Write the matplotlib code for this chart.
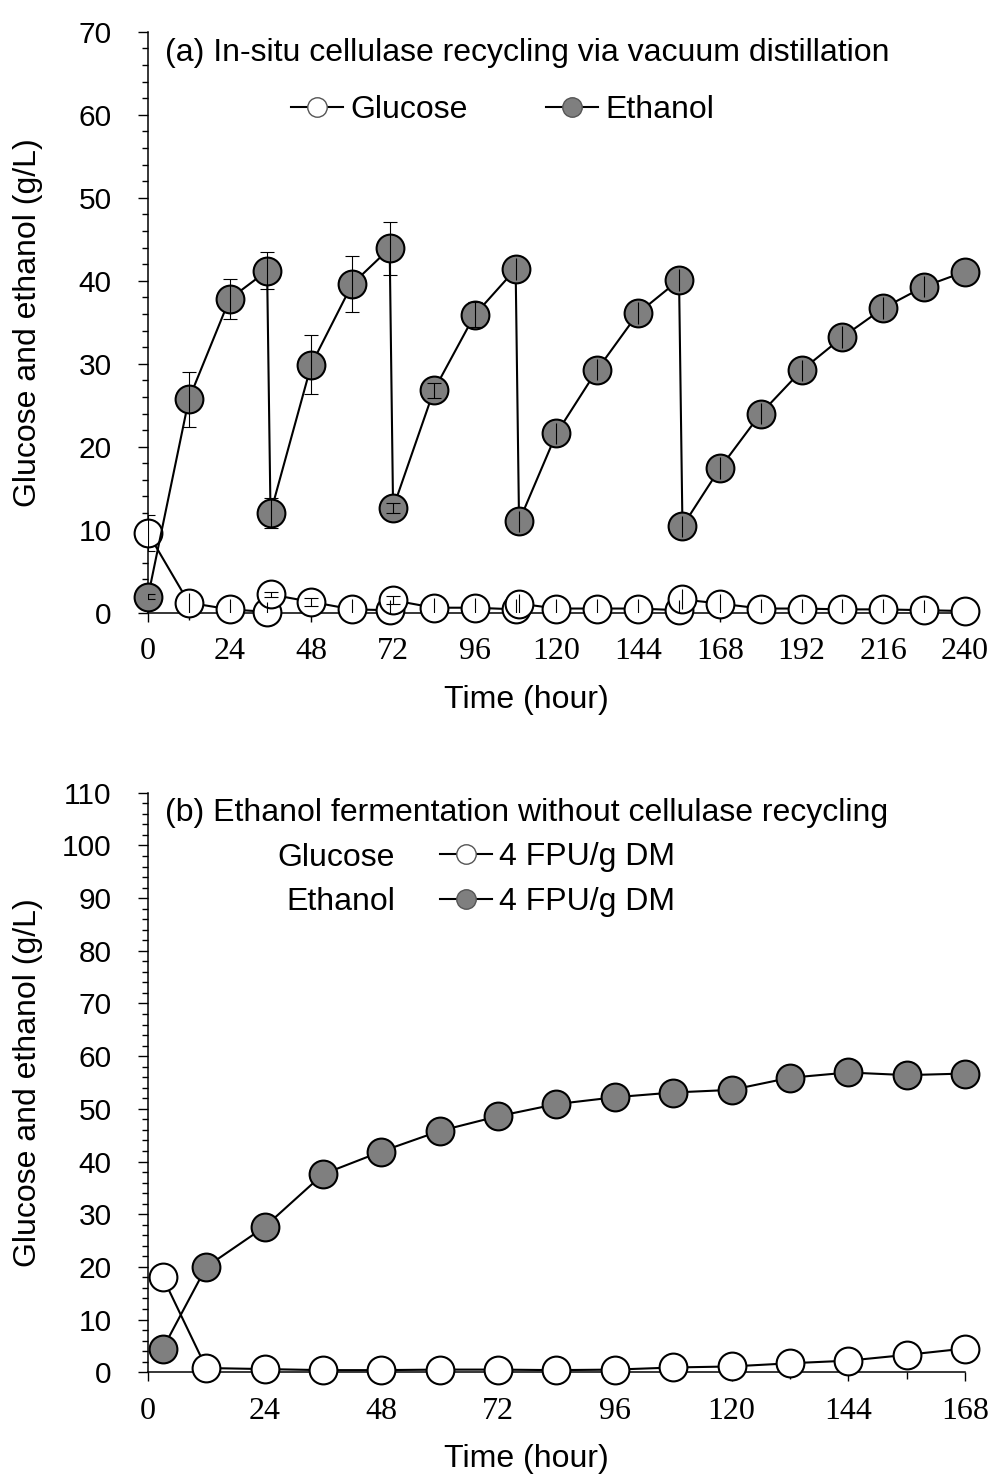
import numpy as np
import matplotlib
matplotlib.use("Agg")
import matplotlib.pyplot as plt
from matplotlib.ticker import MultipleLocator
from matplotlib.lines import Line2D

plt.rcParams['font.family'] = ['Liberation Sans', 'DejaVu Sans']

# (a) in-situ cellulase recycling via vacuum distillation
time_a = [0, 12, 24, 35, 36, 48, 60, 71, 72, 84, 96, 108, 109, 120, 132, 144,
          156, 157, 168, 180, 192, 204, 216, 228, 240]
ethanol_a = [1.9, 25.7, 37.8, 41.2, 12.0, 29.9, 39.6, 43.9, 12.6, 26.8, 35.9,
             41.4, 11.0, 21.6, 29.3, 36.1, 40.1, 10.4, 17.4, 24.0, 29.2, 33.2,
             36.7, 39.3, 41.1]
ethanol_a_err = [0.3, 3.3, 2.4, 2.2, 1.8, 3.6, 3.4, 3.2, 0.6, 0.9, 1.5, 1.3,
                 1.3, 1.3, 1.3, 1.3, 1.3, 1.3, 1.3, 1.3, 1.3, 1.3, 1.3, 1.3, 0.0]
ethanol_a_capped = [1, 1, 1, 1, 1, 1, 1, 1, 1, 1, 1, 0, 0, 0, 0, 0, 0, 0, 0,
                    0, 0, 0, 0, 0, 0]
glucose_a = [9.6, 1.2, 0.4, 0.1, 2.2, 1.3, 0.4, 0.3, 1.5, 0.6, 0.6, 0.4,
             1.1, 0.5, 0.5, 0.5, 0.3, 1.6, 1.1, 0.5, 0.5, 0.4, 0.4, 0.3, 0.2]
glucose_a_err = [2.2, 1.2, 1.2, 1.2, 0.3, 0.5, 1.2, 1.2, 0.5, 1.2, 1.2, 1.2,
                 1.2, 1.2, 1.2, 1.2, 1.2, 1.2, 1.2, 1.2, 1.2, 1.2, 1.2, 1.2, 0.0]
glucose_a_capped = [1, 0, 0, 0, 1, 1, 0, 0, 1, 0, 0, 0, 0, 0, 0, 0, 0, 0, 0,
                    0, 0, 0, 0, 0, 0]

# (b) ethanol fermentation without cellulase recycling
time_b = [3, 12, 24, 36, 48, 60, 72, 84, 96, 108, 120, 132, 144, 156, 168]
ethanol_b = [4.4, 20.0, 27.6, 37.6, 41.9, 45.8, 48.6, 50.9, 52.2, 53.1, 53.6,
             55.9, 56.9, 56.4, 56.7]
glucose_b = [18.1, 0.8, 0.6, 0.4, 0.4, 0.5, 0.5, 0.4, 0.5, 0.9, 1.1, 1.7,
             2.2, 3.3, 4.5]

GREY = '#7f7f7f'
FS = 23

fig = plt.figure(figsize=(9.91, 14.76), dpi=100)
ax1 = fig.add_axes([0.1493, 0.5849, 0.8245, 0.3936])
ax2 = fig.add_axes([0.1493, 0.0703, 0.8245, 0.3926])


def style_axis(ax, xmax, ymax):
    for s in ['top', 'right']:
        ax.spines[s].set_visible(False)
    for s in ['left', 'bottom']:
        ax.spines[s].set_linewidth(1.1)
    ax.set_xlim(0, xmax)
    ax.set_ylim(0, ymax)
    ax.xaxis.set_major_locator(MultipleLocator(24))
    ax.xaxis.set_minor_locator(MultipleLocator(12))
    ax.yaxis.set_major_locator(MultipleLocator(10))
    ax.yaxis.set_minor_locator(MultipleLocator(2))
    ax.tick_params(axis='y', which='major', direction='out', length=7.2,
                   width=1, pad=19, labelsize=21.5)
    ax.tick_params(axis='y', which='minor', direction='out', length=4.3, width=1)
    ax.tick_params(axis='x', which='major', direction='out', length=6.5,
                   width=1, pad=11, labelsize=23)
    ax.tick_params(axis='x', which='minor', direction='out', length=5, width=1)
    for lab in ax.get_xticklabels():
        lab.set_fontfamily('Liberation Serif')
    ax.set_xlabel('Time (hour)', fontsize=FS)
    ax.set_ylabel('Glucose and ethanol (g/L)', fontsize=FS)
    ax.yaxis.set_label_coords(-0.128, 0.5)
    ax.xaxis.set_label_coords(0.463, -0.124)
    ax.patch.set_visible(False)


def draw_err(ax, t, v, err, capped):
    t, v, err, capped = map(np.asarray, (t, v, err, capped))
    for flag, cap in [(1, 5), (0, 0)]:
        m = capped == flag
        ax.errorbar(t[m], v[m], yerr=err[m], fmt='none', ecolor='black',
                    elinewidth=0.8, capsize=cap, capthick=0.8, zorder=4)


# --- panel (a)
draw_err(ax1, time_a, ethanol_a, ethanol_a_err, ethanol_a_capped)
draw_err(ax1, time_a, glucose_a, glucose_a_err, glucose_a_capped)
ax1.plot(time_a, glucose_a, '-o', color='black', lw=1.5, ms=20, mfc='white',
         mec='black', mew=1.5, zorder=3, clip_on=False)
ax1.plot(time_a, ethanol_a, '-o', color='black', lw=1.5, ms=20, mfc=GREY,
         mec='black', mew=1.5, zorder=3, clip_on=False)
style_axis(ax1, 240, 70)
ax1.text(0.021, 0.964, '(a) In-situ cellulase recycling via vacuum distillation',
         transform=ax1.transAxes, fontsize=FS, va='center', ha='left')
leg_h = [Line2D([], [], color='black', lw=1.5, marker='o', ms=14, mfc='white',
                mec='#555555', mew=1),
         Line2D([], [], color='black', lw=1.5, marker='o', ms=14, mfc=GREY,
                mec='#555555', mew=1)]
ax1.legend(leg_h, ['Glucose', 'Ethanol'], loc='center left',
           bbox_to_anchor=(0.175, 0.865), ncol=2, frameon=False, fontsize=FS,
           handlelength=1.63, handletextpad=0.22, columnspacing=2.47,
           borderpad=0, borderaxespad=0)

# --- panel (b)
ax2.plot(time_b, glucose_b, '-o', color='black', lw=1.5, ms=20, mfc='white',
         mec='black', mew=1.5, zorder=3, clip_on=False)
ax2.plot(time_b, ethanol_b, '-o', color='black', lw=1.5, ms=20, mfc=GREY,
         mec='black', mew=1.5, zorder=3, clip_on=False)
style_axis(ax2, 168, 110)
ax2.text(0.021, 0.965, '(b) Ethanol fermentation without cellulase recycling',
         transform=ax2.transAxes, fontsize=FS, va='center', ha='left')
ax2.legend(leg_h, ['4 FPU/g DM', '4 FPU/g DM'], loc='upper left',
           bbox_to_anchor=((440 - 148) / 817, (1372.3 - 842) / 579.6),
           frameon=False, fontsize=FS, handlelength=1.63,
           handletextpad=0.22, labelspacing=0.46, borderpad=0,
           borderaxespad=0)
ax2.text((395 - 148) / 817, (1372.3 - 858) / 579.6, 'Glucose',
         transform=ax2.transAxes, fontsize=FS, ha='right', va='center')
ax2.text((395 - 148) / 817, (1372.3 - 902) / 579.6, 'Ethanol',
         transform=ax2.transAxes, fontsize=FS, ha='right', va='center')

fig.savefig('out.png', dpi=100)
